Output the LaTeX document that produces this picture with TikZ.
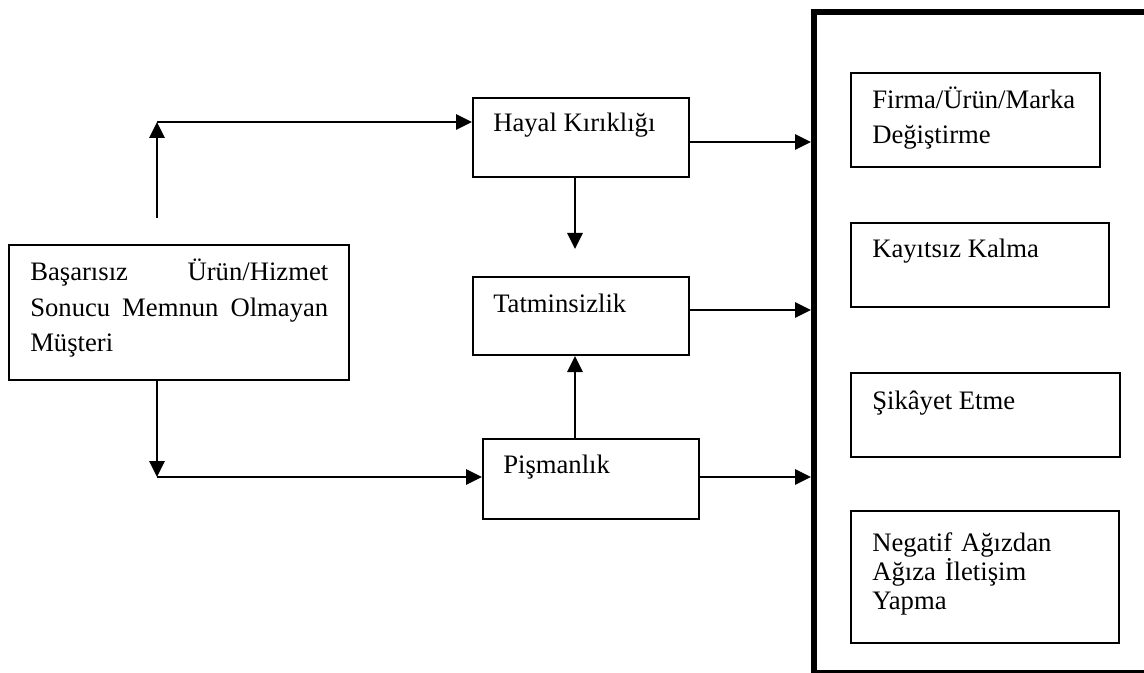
\documentclass[tikz,border=0pt]{standalone}
\usepackage{fontspec}
\setmainfont{Liberation Serif}
\usetikzlibrary{arrows.meta}
\begin{document}
\begin{tikzpicture}[x=0.75pt,y=-0.75pt,
  box/.style={draw, line width=1.5pt, rectangle, inner sep=0pt},
  lbl/.style={anchor=base west, inner sep=0pt, font=\fontsize{20pt}{22pt}\selectfont},
  arr/.style={line width=1.5pt, -{Triangle[length=12pt,width=11.5pt]}}]
\useasboundingbox (0,0) rectangle (1144,673);
\clip (0,0) rectangle (1144,673);

% boxes
\node[box, minimum width=255pt, minimum height=101.25pt] (cust) at (179,312.5) {};
\node[box, minimum width=162pt, minimum height=59.25pt] (hayal) at (581,137.5) {};
\node[box, minimum width=162pt, minimum height=58.5pt] (tatm) at (581,316) {};
\node[box, minimum width=162pt, minimum height=60pt] (pism) at (591,479) {};
\node[draw, line width=4.5pt, inner sep=0pt, minimum width=249.75pt, minimum height=495.75pt] (outer) at (980.5,342.5) {};
\node[box, minimum width=186.75pt, minimum height=70.5pt] (firma) at (975.5,120) {};
\node[box, minimum width=193.5pt, minimum height=63pt] (kay) at (980,265) {};
\node[box, minimum width=201.75pt, minimum height=63pt] (sik) at (985.5,415) {};
\node[box, minimum width=201pt, minimum height=99pt] (neg) at (985,577) {};

% texts
\node[lbl, text width=223.5pt, align=justify, font=\fontsize{20pt}{26.6pt}\selectfont] (cust-t) at (30,281)
  {Başarısız\hfill Ürün/Hizmet\\ Sonucu\hfill Memnun\hfill Olmayan\\ Müşteri};
\node[lbl] (hayal-t) at (493,132) {Hayal Kırıklığı};
\node[lbl] (tatm-t) at (493,312) {Tatminsizlik};
\node[lbl] (pism-t) at (503,473) {Pişmanlık};
\node[lbl, text width=170pt, align=left, font=\fontsize{20pt}{26pt}\selectfont] (firma-t) at (872,109)
  {Firma/Ürün/Marka\\ Değiştirme};
\node[lbl] (kay-t) at (872,258) {Kayıtsız Kalma};
\node[lbl] (sik-t) at (872,409) {Şikâyet Etme};
\node[lbl, text width=170pt, align=left, font=\fontsize{20pt}{22pt}\selectfont] (neg-t) at (872,551)
  {Negatif Ağızdan\\ Ağıza İletişim\\ Yapma};

% connector helper points
\coordinate (upstart) at (157,218);
\coordinate (upcorner) at (157,122);
\coordinate (dncorner) at (157,477);
\coordinate (hdrop) at (575,249);
\coordinate (rowh) at (0,142);
\coordinate (rowt) at (0,310);
\coordinate (rowp) at (0,477);

% connectors
\draw[arr] (upstart) -- (upcorner);
\draw[arr] (upcorner) -- (upcorner -| hayal.west);
\draw[arr] (cust.south -| dncorner) -- (dncorner);
\draw[arr] (dncorner) -- (dncorner -| pism.west);
\draw[arr] (hayal.south -| hdrop) -- (hdrop);
\draw[arr] (pism.north -| hdrop) -- (tatm.south -| hdrop);
\draw[arr] (hayal.east |- rowh) -- (outer.west |- rowh);
\draw[arr] (tatm.east |- rowt) -- (outer.west |- rowt);
\draw[arr] (pism.east |- rowp) -- (outer.west |- rowp);
\end{tikzpicture}
\end{document}
